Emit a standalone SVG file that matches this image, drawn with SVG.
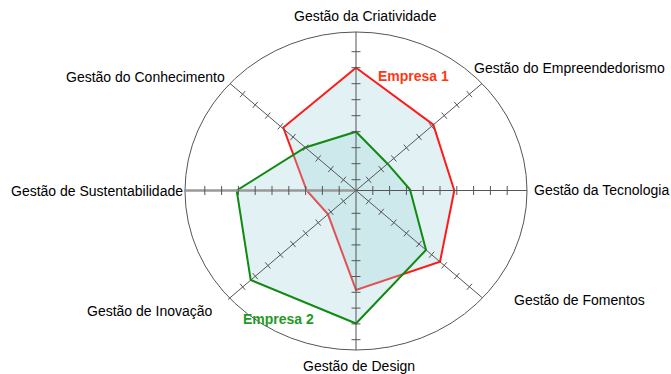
<svg xmlns="http://www.w3.org/2000/svg" width="671" height="374" viewBox="0 0 671 374">
<style>
.lbl{font-family:"Liberation Sans",Arial,sans-serif;font-size:14px;fill:#000}
.leg{font-family:"Liberation Sans",Arial,sans-serif;font-size:14px;font-weight:bold}
.ax{stroke:#555;stroke-width:1;fill:none}
.tk{stroke:#555;stroke-width:1;fill:none}
.area{fill:#9fd3dc;fill-opacity:0.3;stroke-width:2;stroke-linejoin:miter}
</style>
<defs>
<path id="dticks" class="tk" d="M10.01,-13.75L15.19,-7.65M22.61,-24.45L27.79,-18.35M35.21,-35.15L40.39,-29.05M47.81,-45.85L52.99,-39.75M60.41,-56.55L65.59,-50.45M73.01,-67.25L78.19,-61.15M85.61,-77.95L90.79,-71.85M98.21,-88.65L103.39,-82.55M110.81,-99.35L115.99,-93.25"/>
</defs>
<rect width="671" height="374" fill="#fff"/>
<ellipse id="frame" cx="356" cy="191" rx="171" ry="159" fill="none" stroke="#555" stroke-width="1"/>
<g id="series-empresa1">
<polygon class="area" stroke="#ff1a1a" points="356,67.7 433.3,124.6 454.3,190.5 440,261.8 356,290 328,214.3 306.7,190.5 283.3,127.5"/>
</g>
<g id="series-empresa2">
<polygon class="area" stroke="#108a10" points="356,131.7 387.5,163.7 410,189.5 426,250 356,323.5 250.7,280 236.7,190.5 305.3,147.5"/>
</g>
<g id="axes" transform="translate(356,190.5)">
<line class="ax" x1="0" y1="-158.5" x2="0" y2="159.5" stroke="#666" stroke-width="1.5"/>
<line class="ax" x1="0" y1="0" x2="171" y2="0"/>
<line x1="-172" y1="0" x2="0" y2="0" stroke="#999" stroke-width="2.5"/>
<line class="ax" x1="0" y1="0" x2="126" y2="-107" stroke="#666"/>
<line class="ax" x1="0" y1="0" x2="-126" y2="-107" stroke="#666"/>
<line class="ax" x1="0" y1="0" x2="126" y2="107" stroke="#666"/>
<line class="ax" x1="0" y1="0" x2="-128" y2="109" stroke="#666"/>
<path class="tk" d="M-4.5,-10.8H4.5M-4.5,-26.8H4.5M-4.5,-42.8H4.5M-4.5,-58.8H4.5M-4.5,-74.8H4.5M-4.5,-90.8H4.5M-4.5,-106.8H4.5M-4.5,-122.8H4.5M-4.5,-138.8H4.5"/>
<path class="tk" d="M-4.5,22.8H4.5M-4.5,38.6H4.5M-4.5,54.4H4.5M-4.5,70.2H4.5M-4.5,86H4.5M-4.5,101.8H4.5M-4.5,117.6H4.5M-4.5,133.4H4.5M-4.5,149.2H4.5"/>
<path class="tk" d="M16.8,-4.5V4.5M33.6,-4.5V4.5M50.4,-4.5V4.5M67.2,-4.5V4.5M84,-4.5V4.5M100.8,-4.5V4.5M117.6,-4.5V4.5M134.4,-4.5V4.5M151.2,-4.5V4.5"/>
<path class="tk" d="M-16.8,-4.5V4.5M-33.6,-4.5V4.5M-50.4,-4.5V4.5M-67.2,-4.5V4.5M-84,-4.5V4.5M-100.8,-4.5V4.5M-117.6,-4.5V4.5M-134.4,-4.5V4.5M-151.2,-4.5V4.5"/>
<use href="#dticks"/>
<use href="#dticks" transform="scale(-1,1)"/>
<use href="#dticks" transform="scale(1,-1)"/>
<use href="#dticks" transform="scale(-1,-1)"/>
</g>
<g id="labels">
<text class="lbl" x="294" y="21">Gestão da Criatividade</text>
<text class="lbl" x="474" y="73">Gestão do Empreendedorismo</text>
<text class="lbl" x="66" y="82">Gestão do Conhecimento</text>
<text class="lbl" x="11" y="196">Gestão de Sustentabilidade</text>
<text class="lbl" x="534" y="195">Gestão da Tecnologia</text>
<text class="lbl" x="514" y="305">Gestão de Fomentos</text>
<text class="lbl" x="87" y="316">Gestão de Inovação</text>
<text class="lbl" x="303" y="371">Gestão de Design</text>
<text class="leg" x="378" y="81" fill="#ff3814">Empresa 1</text>
<text class="leg" x="243" y="324" fill="#1f9a1f">Empresa 2</text>
</g>
</svg>
